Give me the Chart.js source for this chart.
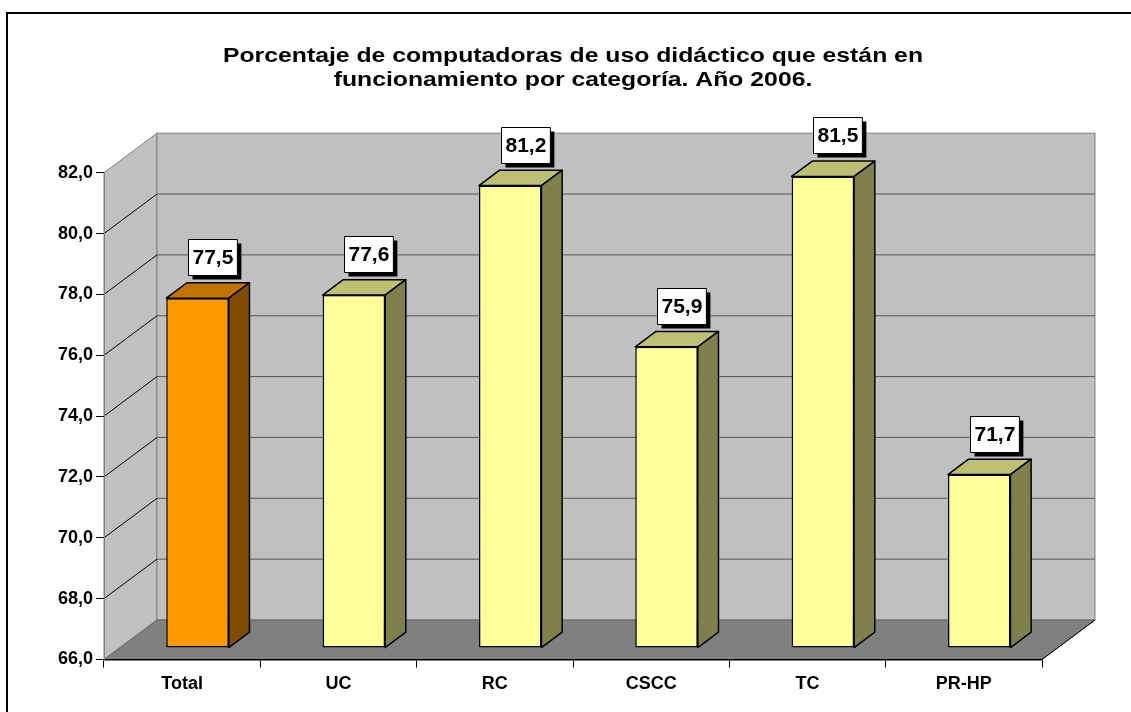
<!DOCTYPE html>
<html>
<head>
<meta charset="utf-8">
<script src="https://cdn.jsdelivr.net/npm/chart.js@4.4.1/dist/chart.umd.min.js"></script>
<style>
  html, body { margin: 0; padding: 0; background: #fff; }
  canvas { display: block; }
</style>
</head>
<body>
<canvas id="myChart" width="1131" height="712"></canvas>
<script>
// chart data
var categories = ['Total', 'UC', 'RC', 'CSCC', 'TC', 'PR-HP'];
var values     = [77.5, 77.6, 81.2, 75.9, 81.5, 71.7];
var yMin = 66, yMax = 82, yStep = 2;
var titleLines = ['Porcentaje de computadoras de uso didáctico que están en',
                  'funcionamiento por categoría. Año 2006.'];

var FONT = 'Arial, "Liberation Sans", sans-serif';

// 3d look: wall depth and where the bars sit inside it
var DEPTH_X = 53, DEPTH_Y = -39.5;
var BAR_SHIFT = 0.29;
var BAR_DEPTH = 0.39;

function comma(v) {
    return Number(v).toFixed(1).replace('.', ',');
}

// first bar (Total) is orange, the rest pale yellow
function faceColor(i, face) {
    var orange = { front: '#FF9900', top: '#C07300', side: '#7F4C00' };
    var yellow = { front: '#FFFF99', top: '#BFBF73', side: '#80804C' };
    return (i === 0 ? orange : yellow)[face];
}

/**
 * frame + title (the original title is stretched wide, so it is drawn here)
 */
var titlePlugin = {
    id: 'wideTitle',
    afterDraw: function(chart) {
        var ctx = chart.ctx, a = chart.chartArea;
        var cx = (a.left + a.right) / 2;
        ctx.save();
        ctx.font = 'bold 19.5px ' + FONT;
        ctx.fillStyle = '#000';
        ctx.textAlign = 'center';
        ctx.textBaseline = 'alphabetic';
        var stretch = 700 / ctx.measureText(titleLines[0]).width;
        ctx.translate(cx, 0);
        ctx.scale(stretch, 1);
        ctx.fillText(titleLines[0], 0, 61.5);
        ctx.fillText(titleLines[1], 0, 85.5);
        ctx.restore();
    }
};

/**
 * back wall, side wall, floor and the grid lines on the walls
 */
var wallsPlugin = {
    id: 'walls',
    beforeDraw: function(chart) {
        var ctx = chart.ctx, a = chart.chartArea, y = chart.scales.y;
        ctx.save();

        // outer frame (runs off the right and bottom)
        ctx.lineWidth = 2;
        ctx.strokeStyle = '#000';
        ctx.strokeRect(7, 13, 1300, 900);

        ctx.lineWidth = 1;
        ctx.strokeStyle = '#808080';

        // side wall
        ctx.beginPath();
        ctx.moveTo(a.left, a.top);
        ctx.lineTo(a.left + DEPTH_X, a.top + DEPTH_Y);
        ctx.lineTo(a.left + DEPTH_X, a.bottom + DEPTH_Y);
        ctx.lineTo(a.left, a.bottom);
        ctx.closePath();
        ctx.fillStyle = '#C0C0C0';
        ctx.fill();
        ctx.stroke();

        // back wall
        ctx.fillRect(a.left + DEPTH_X, a.top + DEPTH_Y, a.right - a.left, a.bottom - a.top);
        ctx.strokeRect(a.left + DEPTH_X, a.top + DEPTH_Y, a.right - a.left, a.bottom - a.top);

        // grid lines on the walls
        y.ticks.forEach(function(t) {
            if (t.value <= yMin || t.value >= yMax) return;
            var py = y.getPixelForValue(t.value);
            ctx.strokeStyle = '#000';
            ctx.beginPath();
            ctx.moveTo(a.left, py);
            ctx.lineTo(a.left + DEPTH_X, py + DEPTH_Y);
            ctx.stroke();
            ctx.strokeStyle = '#555';
            ctx.beginPath();
            ctx.moveTo(a.left + DEPTH_X, py + DEPTH_Y);
            ctx.lineTo(a.right + DEPTH_X, py + DEPTH_Y);
            ctx.stroke();
        });

        // floor
        ctx.beginPath();
        ctx.moveTo(a.left, a.bottom);
        ctx.lineTo(a.right, a.bottom);
        ctx.lineTo(a.right + DEPTH_X, a.bottom + DEPTH_Y);
        ctx.lineTo(a.left + DEPTH_X, a.bottom + DEPTH_Y);
        ctx.closePath();
        ctx.fillStyle = '#808080';
        ctx.fill();
        ctx.strokeStyle = '#666';
        ctx.stroke();
        ctx.strokeStyle = '#000';
        ctx.beginPath();
        ctx.moveTo(a.right, a.bottom);
        ctx.lineTo(a.right + DEPTH_X, a.bottom + DEPTH_Y);
        ctx.stroke();

        ctx.restore();
    }
};

/**
 * bars: the library draws the front faces (shifted into the box),
 * here we add the top and side faces and the value boxes
 */
var barsPlugin = {
    id: 'bars3d',
    beforeDatasetsDraw: function(chart) {
        chart.ctx.save();
        chart.ctx.translate(DEPTH_X * BAR_SHIFT, DEPTH_Y * BAR_SHIFT);
    },
    afterDatasetsDraw: function(chart) {
        var ctx = chart.ctx;
        ctx.restore();

        var sx = DEPTH_X * BAR_SHIFT, sy = DEPTH_Y * BAR_SHIFT;
        var dx = DEPTH_X * BAR_DEPTH, dy = DEPTH_Y * BAR_DEPTH;
        var meta = chart.getDatasetMeta(0);

        ctx.save();
        ctx.lineWidth = 1.5;
        ctx.lineJoin = 'round';
        ctx.strokeStyle = '#000';

        meta.data.forEach(function(bar, i) {
            var p = bar.getProps(['x', 'y', 'base', 'width'], true);
            var x0 = p.x - p.width / 2 + sx, x1 = p.x + p.width / 2 + sx;
            var yt = p.y + sy, yb = p.base + sy;

            // top face
            ctx.beginPath();
            ctx.moveTo(x0, yt);
            ctx.lineTo(x1, yt);
            ctx.lineTo(x1 + dx, yt + dy);
            ctx.lineTo(x0 + dx, yt + dy);
            ctx.closePath();
            ctx.fillStyle = faceColor(i, 'top');
            ctx.fill();
            ctx.stroke();

            // side face
            ctx.beginPath();
            ctx.moveTo(x1, yt);
            ctx.lineTo(x1 + dx, yt + dy);
            ctx.lineTo(x1 + dx, yb + dy);
            ctx.lineTo(x1, yb);
            ctx.closePath();
            ctx.fillStyle = faceColor(i, 'side');
            ctx.fill();
            ctx.stroke();

            // value box with shadow
            var txt = comma(values[i]);
            ctx.font = 'bold 21px ' + FONT;
            var w = ctx.measureText(txt).width + 8, h = 36;
            var cx = p.x + sx + 15;
            var bottom = yt - 23;
            var left = Math.round(cx - w / 2) + 0.5, top = Math.round(bottom - h) + 0.5;
            ctx.fillStyle = '#000';
            ctx.fillRect(left + 4, top + 4, w, h);
            ctx.fillStyle = '#fff';
            ctx.fillRect(left, top, w, h);
            ctx.lineWidth = 1;
            ctx.strokeRect(left, top, w, h);
            ctx.lineWidth = 1.5;
            ctx.fillStyle = '#000';
            ctx.textAlign = 'center';
            ctx.textBaseline = 'middle';
            ctx.fillText(txt, left + w / 2, top + h / 2 + 1);
        });
        ctx.restore();
    }
};

var ctx = document.getElementById('myChart');

var myChart = new Chart(ctx, {
    type: 'bar',
    data: {
        labels: categories,
        datasets: [{
            data: values,
            base: yMin,
            backgroundColor: values.map(function(v, i) { return faceColor(i, 'front'); }),
            borderColor: '#000',
            borderWidth: 1.5,
            borderSkipped: false,
            barPercentage: 0.4,
            categoryPercentage: 1,
            clip: false
        }]
    },
    options: {
        responsive: false,
        animation: false,
        devicePixelRatio: 1,
        layout: { padding: { left: 0, right: 89, top: 172.7, bottom: 0 } },
        plugins: {
            legend: { display: false },
            tooltip: { enabled: false },
            title: { display: false }
        },
        scales: {
            x: {
                grid: { offset: true, drawOnChartArea: false, color: '#000', tickLength: 8 },
                border: { color: '#000', width: 1.5 },
                ticks: {
                    color: '#000',
                    maxRotation: 0,
                    padding: 6,
                    font: { family: FONT, size: 18, weight: 'bold' }
                },
                afterFit: function(s) { s.height = 52.5; }
            },
            y: {
                min: yMin,
                max: yMax,
                ticks: {
                    stepSize: yStep,
                    color: '#000',
                    padding: 3,
                    font: { family: FONT, size: 18, weight: 'bold' },
                    callback: function(v) { return comma(v); }
                },
                grid: { drawOnChartArea: false, color: '#000', tickLength: 8 },
                border: { color: '#808080', width: 1 },
                afterFit: function(s) { s.width = 104; }
            }
        }
    },
    plugins: [wallsPlugin, barsPlugin, titlePlugin]
});
</script>
</body>
</html>
